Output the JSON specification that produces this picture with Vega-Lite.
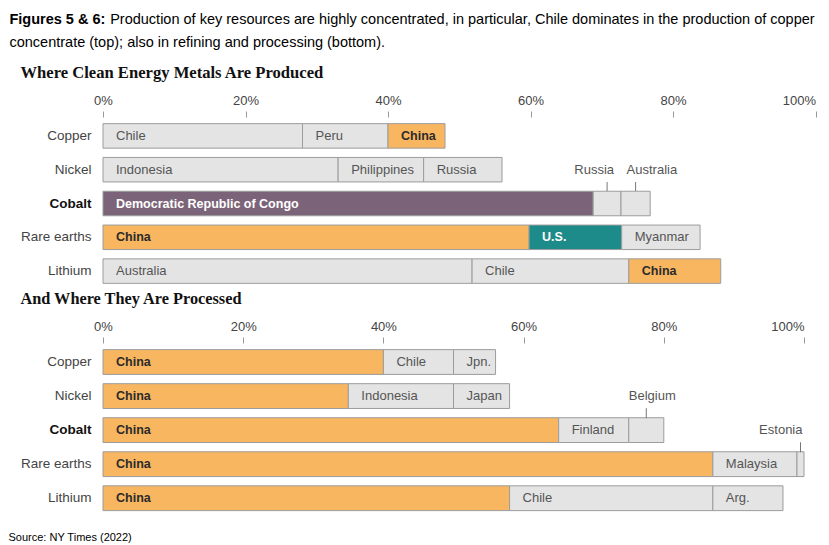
{
  "$schema": "https://vega.github.io/schema/vega-lite/v6.json",
  "padding": {"left": 8, "top": 12, "right": 5, "bottom": 2},
  "background": "white",
  "config": {
    "view": {"stroke": null},
    "font": "Liberation Sans",
    "concat": {"spacing": 2}
  },
  "title": {
    "text": "Figures 5 & 6:",
    "subtitle": [
      "\u200b\u00a0\u00a0\u00a0\u00a0\u00a0\u00a0\u00a0\u00a0\u00a0\u00a0\u00a0\u00a0\u00a0\u00a0\u00a0\u00a0\u00a0\u00a0\u00a0\u00a0\u00a0\u00a0\u00a0\u00a0\u00a0Production of key resources are highly concentrated, in particular, Chile dominates in the production of copper",
      "concentrate (top); also in refining and processing (bottom)."
    ],
    "anchor": "start",
    "frame": "bounds",
    "dx": 1,
    "font": "Liberation Sans",
    "fontSize": 14.5,
    "fontWeight": "bold",
    "color": "#000000",
    "subtitleFont": "Liberation Sans",
    "subtitleFontSize": 14.5,
    "subtitleColor": "#000000",
    "subtitlePadding": -14.5,
    "subtitleLineHeight": 22.5,
    "offset": 15
  },
  "datasets": {
    "produced": [
      {"metal": "Copper", "country": "Chile", "share": 28},
      {"metal": "Copper", "country": "Peru", "share": 12},
      {"metal": "Copper", "country": "China", "share": 8},
      {"metal": "Nickel", "country": "Indonesia", "share": 33},
      {"metal": "Nickel", "country": "Philippines", "share": 12},
      {"metal": "Nickel", "country": "Russia", "share": 11},
      {"metal": "Cobalt", "country": "Democratic Republic of Congo", "share": 68.8},
      {"metal": "Cobalt", "country": "Russia", "share": 3.9},
      {"metal": "Cobalt", "country": "Australia", "share": 4.1},
      {"metal": "Rare earths", "country": "China", "share": 59.8},
      {"metal": "Rare earths", "country": "U.S.", "share": 13},
      {"metal": "Rare earths", "country": "Myanmar", "share": 11},
      {"metal": "Lithium", "country": "Australia", "share": 51.8},
      {"metal": "Lithium", "country": "Chile", "share": 22},
      {"metal": "Lithium", "country": "China", "share": 12.9}
    ],
    "processed": [
      {"metal": "Copper", "country": "China", "share": 40},
      {"metal": "Copper", "country": "Chile", "share": 10},
      {"metal": "Copper", "country": "Jpn.", "share": 6},
      {"metal": "Nickel", "country": "China", "share": 35},
      {"metal": "Nickel", "country": "Indonesia", "share": 15},
      {"metal": "Nickel", "country": "Japan", "share": 8},
      {"metal": "Cobalt", "country": "China", "share": 65},
      {"metal": "Cobalt", "country": "Finland", "share": 10},
      {"metal": "Cobalt", "country": "Belgium", "share": 5},
      {"metal": "Rare earths", "country": "China", "share": 87},
      {"metal": "Rare earths", "country": "Malaysia", "share": 12},
      {"metal": "Rare earths", "country": "Estonia", "share": 1},
      {"metal": "Lithium", "country": "China", "share": 58},
      {"metal": "Lithium", "country": "Chile", "share": 29},
      {"metal": "Lithium", "country": "Arg.", "share": 10}
    ]
  },
  "vconcat": [
    {
      "title": {
        "text": "Source: NY Times (2022)",
        "orient": "bottom",
        "anchor": "start",
        "frame": "bounds",
        "dx": -12,
        "font": "Liberation Sans",
        "fontSize": 11,
        "fontWeight": "normal",
        "color": "#000000",
        "offset": 17
      },
      "vconcat": [
        {
          "title": {
            "text": "Where Clean Energy Metals Are Produced",
            "anchor": "start",
            "frame": "bounds",
            "font": "Liberation Serif",
            "fontSize": 16.6,
            "fontWeight": "bold",
            "color": "#111111",
            "offset": 12
          },
          "data": {"name": "produced"},
          "transform": [
            {"window": [{"op": "row_number", "as": "idx"}]},
            {"stack": "share", "groupby": ["metal"], "sort": [{"field": "idx", "order": "ascending"}], "as": ["x0", "x1"]},
            {"calculate": "(datum.x0 + datum.x1) / 2", "as": "mid"}
          ],
          "width": 712.5,
          "height": 169,
          "encoding": {
            "y": {
              "field": "metal",
              "type": "nominal",
              "sort": ["Copper", "Nickel", "Cobalt", "Rare earths", "Lithium"],
              "scale": {"paddingInner": 0.275, "paddingOuter": 0.1375},
              "axis": {
                "title": null,
                "domain": false,
                "ticks": false,
                "labelPadding": 12,
                "labelFontSize": 13.5,
                "labelFont": "Liberation Sans",
                "labelColor": {"condition": {"test": "datum.value === 'Cobalt'", "value": "#111111"}, "value": "#444444"},
                "labelFontWeight": {"condition": {"test": "datum.value === 'Cobalt'", "value": "bold"}, "value": "normal"}
              }
            }
          },
          "layer": [
            {
              "mark": {"type": "bar", "stroke": "#9c9c9c", "strokeWidth": 1},
              "encoding": {
                "x": {
                  "field": "x0",
                  "type": "quantitative",
                  "scale": {"domain": [0, 100]},
                  "axis": {
                    "orient": "top",
                    "values": [0, 20, 40, 60, 80, 100],
                    "labelExpr": "datum.value + '%'",
                    "domain": false,
                    "grid": false,
                    "tickSize": 6,
                    "tickColor": "#999999",
                    "labelColor": "#444444",
                    "labelFontSize": 13,
                    "labelFont": "Liberation Sans",
                    "labelPadding": 4,
                    "offset": 2,
                    "title": null,
                    "labelFlush": false,
                    "labelAlign": {"condition": {"test": "datum.value === 100", "value": "right"}, "value": "center"}
                  }
                },
                "x2": {"field": "x1"},
                "color": {
                  "condition": [
                    {"test": "datum.country === 'China'", "value": "#f9b660"},
                    {"test": "datum.country === 'Democratic Republic of Congo'", "value": "#7b6479"},
                    {"test": "datum.country === 'U.S.'", "value": "#1d8b89"}
                  ],
                  "value": "#e4e4e4"
                }
              }
            },
            {
              "transform": [{"filter": "datum.country !== 'China' && datum.country !== 'U.S.' && datum.country !== 'Democratic Republic of Congo' && datum.metal !== 'Cobalt'"}],
              "mark": {"type": "text", "align": "left", "baseline": "middle", "dx": 13, "fontSize": 13, "color": "#555555"},
              "encoding": {"x": {"field": "x0", "type": "quantitative"}, "text": {"field": "country"}}
            },
            {
              "transform": [{"filter": "datum.country === 'China'"}],
              "mark": {"type": "text", "align": "left", "baseline": "middle", "dx": 13, "fontSize": 12.5, "fontWeight": "bold", "color": "#2b2b2b"},
              "encoding": {"x": {"field": "x0", "type": "quantitative"}, "text": {"field": "country"}}
            },
            {
              "transform": [{"filter": "datum.country === 'U.S.' || datum.country === 'Democratic Republic of Congo'"}],
              "mark": {"type": "text", "align": "left", "baseline": "middle", "dx": 13, "fontSize": 12.5, "fontWeight": "bold", "color": "#ffffff"},
              "encoding": {"x": {"field": "x0", "type": "quantitative"}, "text": {"field": "country"}}
            },
            {
              "transform": [{"filter": "datum.metal === 'Cobalt' && datum.country === 'Russia'"}],
              "mark": {"type": "text", "align": "right", "baseline": "middle", "dx": 7, "dy": -34, "fontSize": 13, "color": "#555555"},
              "encoding": {"x": {"field": "mid", "type": "quantitative"}, "text": {"field": "country"}}
            },
            {
              "transform": [{"filter": "datum.metal === 'Cobalt' && datum.country === 'Australia'"}],
              "mark": {"type": "text", "align": "left", "baseline": "middle", "dx": -9, "dy": -34, "fontSize": 13, "color": "#555555"},
              "encoding": {"x": {"field": "mid", "type": "quantitative"}, "text": {"field": "country"}}
            },
            {
              "transform": [{"filter": "datum.metal === 'Cobalt' && (datum.country === 'Russia' || datum.country === 'Australia')"}],
              "mark": {"type": "tick", "orient": "vertical", "size": 9, "thickness": 1, "color": "#777777", "opacity": 1, "yOffset": -17},
              "encoding": {"x": {"field": "mid", "type": "quantitative"}}
            }
          ]
        },
        {
          "title": {
            "text": "And Where They Are Processed",
            "anchor": "start",
            "frame": "bounds",
            "font": "Liberation Serif",
            "fontSize": 16.3,
            "fontWeight": "bold",
            "color": "#111111",
            "offset": 13
          },
          "data": {"name": "processed"},
          "transform": [
            {"window": [{"op": "row_number", "as": "idx"}]},
            {"stack": "share", "groupby": ["metal"], "sort": [{"field": "idx", "order": "ascending"}], "as": ["x0", "x1"]},
            {"calculate": "(datum.x0 + datum.x1) / 2", "as": "mid"}
          ],
          "width": 701,
          "height": 170.25,
          "encoding": {
            "y": {
              "field": "metal",
              "type": "nominal",
              "sort": ["Copper", "Nickel", "Cobalt", "Rare earths", "Lithium"],
              "scale": {"paddingInner": 0.272, "paddingOuter": 0.136},
              "axis": {
                "title": null,
                "domain": false,
                "ticks": false,
                "labelPadding": 12,
                "labelFontSize": 13.5,
                "labelFont": "Liberation Sans",
                "labelColor": {"condition": {"test": "datum.value === 'Cobalt'", "value": "#111111"}, "value": "#444444"},
                "labelFontWeight": {"condition": {"test": "datum.value === 'Cobalt'", "value": "bold"}, "value": "normal"}
              }
            }
          },
          "layer": [
            {
              "mark": {"type": "bar", "stroke": "#9c9c9c", "strokeWidth": 1},
              "encoding": {
                "x": {
                  "field": "x0",
                  "type": "quantitative",
                  "scale": {"domain": [0, 100]},
                  "axis": {
                    "orient": "top",
                    "values": [0, 20, 40, 60, 80, 100],
                    "labelExpr": "datum.value + '%'",
                    "domain": false,
                    "grid": false,
                    "tickSize": 6,
                    "tickColor": "#999999",
                    "labelColor": "#444444",
                    "labelFontSize": 13,
                    "labelFont": "Liberation Sans",
                    "labelPadding": 4,
                    "offset": 2,
                    "title": null,
                    "labelFlush": false,
                    "labelAlign": {"condition": {"test": "datum.value === 100", "value": "right"}, "value": "center"}
                  }
                },
                "x2": {"field": "x1"},
                "color": {
                  "condition": [
                    {"test": "datum.country === 'China'", "value": "#f9b660"}
                  ],
                  "value": "#e4e4e4"
                }
              }
            },
            {
              "transform": [{"filter": "datum.country !== 'China' && datum.country !== 'Belgium' && datum.country !== 'Estonia'"}],
              "mark": {"type": "text", "align": "left", "baseline": "middle", "dx": 13, "fontSize": 13, "color": "#555555"},
              "encoding": {"x": {"field": "x0", "type": "quantitative"}, "text": {"field": "country"}}
            },
            {
              "transform": [{"filter": "datum.country === 'China'"}],
              "mark": {"type": "text", "align": "left", "baseline": "middle", "dx": 13, "fontSize": 12.5, "fontWeight": "bold", "color": "#2b2b2b"},
              "encoding": {"x": {"field": "x0", "type": "quantitative"}, "text": {"field": "country"}}
            },
            {
              "transform": [{"filter": "datum.country === 'Belgium'"}],
              "mark": {"type": "text", "align": "center", "baseline": "middle", "dx": 6, "dy": -34, "fontSize": 13, "color": "#555555"},
              "encoding": {"x": {"field": "mid", "type": "quantitative"}, "text": {"field": "country"}}
            },
            {
              "transform": [{"filter": "datum.country === 'Estonia'"}],
              "mark": {"type": "text", "align": "right", "baseline": "middle", "dx": 2, "dy": -34, "fontSize": 13, "color": "#555555"},
              "encoding": {"x": {"field": "mid", "type": "quantitative"}, "text": {"field": "country"}}
            },
            {
              "transform": [{"filter": "datum.country === 'Belgium' || datum.country === 'Estonia'"}],
              "mark": {"type": "tick", "orient": "vertical", "size": 10, "thickness": 1, "color": "#777777", "opacity": 1, "yOffset": -17},
              "encoding": {"x": {"field": "mid", "type": "quantitative"}}
            }
          ]
        }
      ]
    }
  ]
}
